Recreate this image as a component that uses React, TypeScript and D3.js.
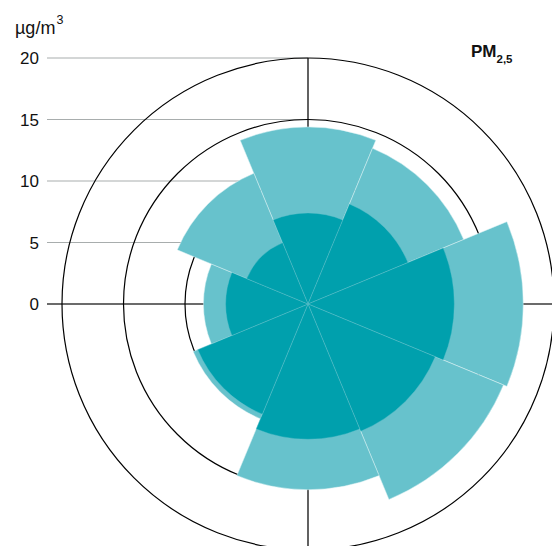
import React from "react";
import * as d3 from "d3";

// Wind direction sectors, clockwise from north
const directions = ["N", "NE", "E", "SE", "S", "SW", "W", "NW"];
// Upper concentration level per sector (µg/m³)
const upperValues = [14.4, 13.7, 17.5, 17.2, 15.1, 10.1, 8.5, 11.5];
// Mean concentration level per sector (µg/m³)
const meanValues = [7.4, 8.8, 11.9, 11.2, 11.0, 9.7, 6.7, 5.4];
// Radial tick labels
const radialTicks = [0, 5, 10, 15, 20];
// Reference circles
const ringValues = [10, 15, 20];

const W = 552;
const H = 546;
const cx = 308;
const cy = 304;
const maxValue = 20;
const maxRadius = 246;

const LIGHT = "#67c2cc";
const DARK = "#00a0ad";

export default function App() {
  const r = d3.scaleLinear().domain([0, maxValue]).range([0, maxRadius]);
  const step = (2 * Math.PI) / directions.length;
  const arc = d3
    .arc<{ i: number; v: number }>()
    .innerRadius(0)
    .outerRadius((d) => r(d.v))
    .startAngle((d) => d.i * step - step / 2)
    .endAngle((d) => d.i * step + step / 2);

  const font = "Liberation Sans, Arial, sans-serif";

  return (
    <svg
      width={W}
      height={H}
      style={{ position: "absolute", left: 0, top: 0 }}
      fontFamily={font}
    >
      {/* horizontal grid lines with value labels */}
      {radialTicks.map((t) => (
        <g key={t}>
          <line
            x1={47}
            x2={t === 0 ? W : cx}
            y1={cy - r(t)}
            y2={cy - r(t)}
            stroke={t === 0 ? "#3a3a3a" : "#a8adad"}
            strokeWidth={t === 0 ? 1.6 : 1}
          />
          <text
            x={39}
            y={cy - r(t)}
            dy="0.36em"
            textAnchor="end"
            fontSize={17}
            fill="#111"
          >
            {t}
          </text>
        </g>
      ))}
      {/* vertical axis */}
      <line
        x1={cx}
        x2={cx}
        y1={cy - r(maxValue)}
        y2={cy + r(maxValue)}
        stroke="#3a3a3a"
        strokeWidth={1.6}
      />
      {/* reference circles */}
      {ringValues.map((v) => (
        <circle
          key={v}
          cx={cx}
          cy={cy}
          r={r(v)}
          fill="none"
          stroke="#000"
          strokeWidth={1.2}
        />
      ))}
      <g transform={`translate(${cx},${cy})`}>
        {upperValues.map((v, i) => (
          <path
            key={"u" + i}
            d={arc({ i, v }) || ""}
            fill={LIGHT}
            stroke="#d8f0f2"
            strokeWidth={0.5}
          />
        ))}
        {meanValues.map((v, i) => (
          <path
            key={"m" + i}
            d={arc({ i, v }) || ""}
            fill={DARK}
            stroke={LIGHT}
            strokeWidth={0.4}
          />
        ))}
      </g>
      {/* unit label */}
      <text x={15} y={34} fontSize={18} fill="#111">
        µg/m
        <tspan dx={1} dy={-10} fontSize={12.5}>
          3
        </tspan>
      </text>
      {/* title */}
      <text x={471} y={57} fontSize={17} fontWeight="bold" fill="#111">
        PM
        <tspan dy={6} fontSize={11.5}>
          2,5
        </tspan>
      </text>
    </svg>
  );
}
